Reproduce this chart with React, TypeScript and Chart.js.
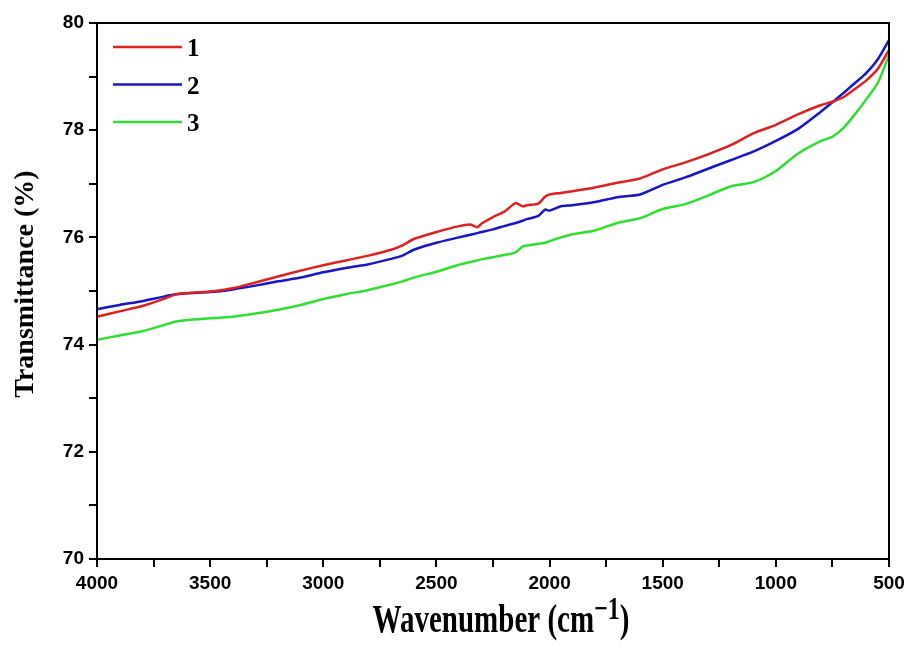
import React, { useEffect, useRef } from "react";
import { Chart, registerables } from "chart.js";

Chart.register(...registerables);

const wavenumbers = [
  4000, 3900, 3800, 3700, 3650, 3600, 3500, 3400, 3300, 3200, 3100, 3000, 2900, 2800, 2700, 2650,
  2600, 2500, 2400, 2350, 2320, 2300, 2250, 2200, 2150, 2120, 2100, 2050, 2020, 2000, 1950, 1900,
  1800, 1700, 1600, 1500, 1400, 1300, 1200, 1100, 1000, 900, 800, 750, 700, 650, 600, 550, 500,
];

const series1 = [
  74.52, 74.62, 74.72, 74.86, 74.94, 74.96, 74.99, 75.05, 75.16, 75.27, 75.38, 75.48, 75.57, 75.66, 75.77, 75.85,
  75.97, 76.1, 76.21, 76.24, 76.19, 76.26, 76.38, 76.48, 76.64, 76.58, 76.6, 76.63, 76.76, 76.8, 76.83, 76.86,
  76.93, 77.02, 77.1, 77.27, 77.4, 77.55, 77.72, 77.94, 78.1, 78.3, 78.47, 78.53, 78.62, 78.77, 78.93, 79.14, 79.5,
];

const series2 = [
  74.66, 74.74, 74.81, 74.9, 74.94, 74.96, 74.98, 75.03, 75.1, 75.18, 75.25, 75.35, 75.43, 75.5, 75.6, 75.66,
  75.77, 75.9, 76.0, 76.05, 76.08, 76.1, 76.15, 76.21, 76.27, 76.31, 76.34, 76.4, 76.52, 76.5, 76.58, 76.6,
  76.66, 76.75, 76.8, 76.98, 77.12, 77.28, 77.44, 77.6, 77.8, 78.03, 78.35, 78.52, 78.7, 78.88, 79.07, 79.32, 79.68,
];

const series3 = [
  74.09, 74.17, 74.25, 74.37, 74.43, 74.46, 74.49, 74.52, 74.58, 74.65, 74.74, 74.85, 74.94, 75.02, 75.12, 75.18,
  75.25, 75.36, 75.49, 75.54, 75.57, 75.59, 75.63, 75.67, 75.72, 75.83, 75.85, 75.88, 75.9, 75.93, 76.0, 76.06,
  76.13, 76.27, 76.36, 76.53, 76.62, 76.78, 76.95, 77.03, 77.24, 77.57, 77.8, 77.88, 78.05, 78.3, 78.58, 78.88, 79.4,
];

const seriesLabels = ["1", "2", "3"];
const seriesColors = ["#e01f1f", "#1616c8", "#2ee02e"];
const xTitle = "Wavenumber (cm";
const xTitleSup = "\u22121";
const yTitle = "Transmittance (%)";

const decorPlugin = {
  id: "decor",
  afterDraw(chart: any) {
    const { ctx, chartArea } = chart;
    ctx.save();
    // frame
    ctx.strokeStyle = "#000";
    ctx.lineWidth = 2;
    ctx.strokeRect(chartArea.left, chartArea.top, chartArea.right - chartArea.left, chartArea.bottom - chartArea.top);

    // legend
    chart.data.datasets.forEach((ds: any, i: number) => {
      const y = chartArea.top + 24 + i * 37.5;
      ctx.strokeStyle = ds.borderColor;
      ctx.lineWidth = 2.5;
      ctx.beginPath();
      ctx.moveTo(chartArea.left + 16, y);
      ctx.lineTo(chartArea.left + 85, y);
      ctx.stroke();
      ctx.fillStyle = "#000";
      ctx.font = "bold 25px 'Liberation Serif', serif";
      ctx.textBaseline = "alphabetic";
      ctx.textAlign = "left";
      ctx.fillText(ds.label, chartArea.left + 90, y + 9);
    });

    // y title
    ctx.save();
    ctx.translate(33, (chartArea.top + chartArea.bottom) / 2 - 7);
    ctx.rotate(-Math.PI / 2);
    ctx.font = "bold 28px 'Liberation Serif', serif";
    ctx.textAlign = "center";
    ctx.textBaseline = "alphabetic";
    ctx.fillStyle = "#000";
    ctx.fillText(yTitle, 0, 0);
    ctx.restore();

    // x title with superscript
    ctx.save();
    ctx.fillStyle = "#000";
    ctx.textBaseline = "alphabetic";
    ctx.textAlign = "left";
    const mainFont = "bold 29px 'Liberation Serif', serif";
    const supFont = "bold 24px 'Liberation Serif', serif";
    ctx.font = mainFont;
    const w1 = ctx.measureText(xTitle).width;
    const wp = ctx.measureText(")").width;
    ctx.font = supFont;
    const w2 = ctx.measureText(xTitleSup).width;
    const total = w1 + w2 + wp;
    const cx = (chartArea.left + chartArea.right) / 2 + 8;
    const x0 = cx - total / 2;
    const baseY = 632;
    ctx.translate(0, baseY);
    ctx.scale(1, 1.35);
    ctx.font = mainFont;
    ctx.fillText(xTitle, x0, 0);
    ctx.font = supFont;
    ctx.fillText(xTitleSup, x0 + w1, -10);
    ctx.font = mainFont;
    ctx.fillText(")", x0 + w1 + w2, 0);
    ctx.restore();

    ctx.restore();
  },
};

export default function App() {
  const canvasRef = useRef<HTMLCanvasElement | null>(null);

  useEffect(() => {
    if (!canvasRef.current) return;
    const mk = (vals: number[]) => wavenumbers.map((w, i) => ({ x: w, y: vals[i] }));
    const all = [series1, series2, series3];
    const chart = new Chart(canvasRef.current, {
      type: "line",
      data: {
        datasets: all.map((vals, i) => ({
          label: seriesLabels[i],
          data: mk(vals),
          borderColor: seriesColors[i],
          backgroundColor: seriesColors[i],
          borderWidth: 2.5,
          pointRadius: 0,
          tension: 0.25,
          fill: false,
        })),
      },
      options: {
        animation: false,
        responsive: true,
        maintainAspectRatio: false,
        layout: { padding: { top: 23, right: 22, left: 0, bottom: 0 } },
        plugins: { legend: { display: false }, tooltip: { enabled: false } },
        scales: {
          x: {
            type: "linear",
            reverse: true,
            min: 500,
            max: 4000,
            afterFit: (s: any) => {
              s.height = 87;
            },
            ticks: {
              stepSize: 250,
              autoSkip: false,
              maxRotation: 0,
              color: "#000",
              padding: 5,
              font: { family: "'Liberation Sans', Arial, sans-serif", size: 19, weight: "bold" },
              callback: (v: any) => (Number(v) % 500 === 0 ? String(v) : ""),
            },
            grid: { drawOnChartArea: false, drawTicks: true, tickLength: 8, color: "#000", lineWidth: 2 },
            border: { display: true, color: "#000", width: 2 },
          },
          y: {
            type: "linear",
            min: 70,
            max: 80,
            afterFit: (s: any) => {
              s.width = 97;
            },
            ticks: {
              stepSize: 1,
              autoSkip: false,
              color: "#000",
              padding: 5,
              font: { family: "'Liberation Sans', Arial, sans-serif", size: 19, weight: "bold" },
              callback: (v: any) => (Number(v) % 2 === 0 ? String(v) : ""),
            },
            grid: { drawOnChartArea: false, drawTicks: true, tickLength: 8, color: "#000", lineWidth: 2 },
            border: { display: true, color: "#000", width: 2 },
          },
        },
      },
      plugins: [decorPlugin],
    });
    return () => chart.destroy();
  }, []);

  return (
    <div style={{ position: "fixed", left: 0, top: 0, width: 911, height: 646, background: "#fff" }}>
      <canvas ref={canvasRef} />
    </div>
  );
}
